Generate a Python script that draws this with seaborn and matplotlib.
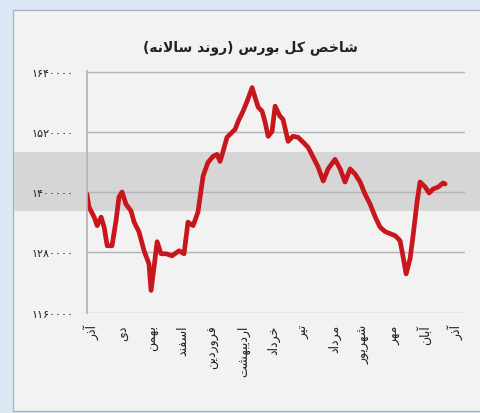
import pandas as pd
import matplotlib.pyplot as plt
import seaborn as sns
from matplotlib.patches import Rectangle

# Data (x in month units, 0 = first آذر label)
t = [-0.17, -0.10, 0.07, 0.17, 0.30, 0.40, 0.50, 0.66, 0.79, 0.89,
     0.99, 1.12, 1.29, 1.39, 1.55, 1.72, 1.88, 1.95, 2.05, 2.15,
     2.28, 2.45, 2.64, 2.88, 3.04, 3.17, 3.34, 3.50, 3.67, 3.83,
     4.00, 4.13, 4.23, 4.33, 4.46, 4.63, 4.73, 4.83, 4.99, 5.12,
     5.29, 5.39, 5.49, 5.62, 5.72, 5.82, 5.95, 6.05, 6.21, 6.31,
     6.48, 6.64, 6.81, 6.98, 7.14, 7.31, 7.47, 7.64, 7.80, 8.03,
     8.20, 8.36, 8.53, 8.69, 8.86, 9.02, 9.19, 9.36, 9.52, 9.69,
     9.85, 10.02, 10.18, 10.28, 10.38, 10.51, 10.61, 10.74, 10.84, 11.01,
     11.14, 11.27, 11.44, 11.60, 11.67]
index = [1396000, 1370000, 1350000, 1333000, 1350000, 1330000, 1293000, 1293000, 1342000, 1390000,
         1400000, 1376000, 1362000, 1340000, 1321000, 1283000, 1257000, 1204000, 1251000, 1301000,
         1277000, 1277000, 1273000, 1283000, 1277000, 1340000, 1333000, 1360000, 1432000, 1459000,
         1471000, 1475000, 1461000, 1481000, 1509000, 1519000, 1525000, 1541000, 1561000, 1580000,
         1608000, 1588000, 1569000, 1561000, 1539000, 1511000, 1521000, 1571000, 1551000, 1545000,
         1501000, 1511000, 1509000, 1499000, 1489000, 1469000, 1450000, 1422000, 1446000, 1465000,
         1446000, 1420000, 1446000, 1436000, 1420000, 1396000, 1376000, 1350000, 1330000, 1321000,
         1317000, 1313000, 1303000, 1271000, 1237000, 1267000, 1313000, 1380000, 1420000, 1410000,
         1398000, 1406000, 1410000, 1418000, 1416000]
months = ["آذر", "دی", "بهمن", "اسفند", "فروردین", "اردیبهشت", "خرداد",
          "تیر", "مرداد", "شهریور", "مهر", "آبان", "آذر"]
yticks = [1160000, 1280000, 1400000, 1520000, 1640000]
title = "شاخص کل بورس (روند سالانه)"

# minimal Persian shaping (matplotlib has no complex text layout)
FORMS = {
    "ا": ("\uFE8D", "\uFE8E", None, None),
    "آ": ("\uFE81", "\uFE82", None, None),
    "ب": ("\uFE8F", "\uFE90", "\uFE91", "\uFE92"),
    "ت": ("\uFE95", "\uFE96", "\uFE97", "\uFE98"),
    "خ": ("\uFEA5", "\uFEA6", "\uFEA7", "\uFEA8"),
    "د": ("\uFEA9", "\uFEAA", None, None),
    "ذ": ("\uFEAB", "\uFEAC", None, None),
    "ر": ("\uFEAD", "\uFEAE", None, None),
    "س": ("\uFEB1", "\uFEB2", "\uFEB3", "\uFEB4"),
    "ش": ("\uFEB5", "\uFEB6", "\uFEB7", "\uFEB8"),
    "ص": ("\uFEB9", "\uFEBA", "\uFEBB", "\uFEBC"),
    "ف": ("\uFED1", "\uFED2", "\uFED3", "\uFED4"),
    "ل": ("\uFEDD", "\uFEDE", "\uFEDF", "\uFEE0"),
    "م": ("\uFEE1", "\uFEE2", "\uFEE3", "\uFEE4"),
    "ن": ("\uFEE5", "\uFEE6", "\uFEE7", "\uFEE8"),
    "ه": ("\uFEE9", "\uFEEA", "\uFEEB", "\uFEEC"),
    "و": ("\uFEED", "\uFEEE", None, None),
    "ی": ("\uFBFC", "\uFBFD", "\uFBFE", "\uFBFF"),
    "ک": ("\uFB8E", "\uFB8F", "\uFB90", "\uFB91"),
    "LA": ("\uFEFB", "\uFEFC", None, None),
}


def fa(text):
    toks = []
    i = 0
    while i < len(text):
        if text[i] == "ل" and i + 1 < len(text) and text[i + 1] == "ا":
            toks.append("LA")
            i += 2
        else:
            toks.append(text[i])
            i += 1
    out = []
    for k, c in enumerate(toks):
        if c not in FORMS:
            out.append(c)
            continue
        prev = toks[k - 1] if k > 0 else None
        nxt = toks[k + 1] if k + 1 < len(toks) else None
        jp = prev in FORMS and FORMS[prev][2] is not None
        jn = FORMS[c][2] is not None and nxt in FORMS
        iso, fin, ini, med = FORMS[c]
        if jp and jn:
            out.append(med)
        elif jp:
            out.append(fin)
        elif jn:
            out.append(ini)
        else:
            out.append(iso)
    vis = "".join(reversed(out))
    return vis.translate(str.maketrans("()", ")("))


def fa_num(v):
    return str(v).translate(str.maketrans("0123456789", "۰۱۲۳۴۵۶۷۸۹"))


df = pd.DataFrame({"t": t, "index": index})

sns.set_theme(style="white")
plt.rcParams["font.family"] = ["DejaVu Sans"]

fig = plt.figure(figsize=(4.81, 4.14), dpi=100, facecolor="#dce8f5")
fig.patches.append(Rectangle((0.027, 0.005), 0.975, 0.969, transform=fig.transFigure,
                             facecolor="#f2f2f2", edgecolor="#aab4c0", lw=1, zorder=-3))
# grey watermark band
fig.patches.append(Rectangle((0.029, 0.488), 0.975, 0.142, transform=fig.transFigure,
                             facecolor="#d6d6d6", edgecolor="none", zorder=-2))

ax = fig.add_axes([0.181, 0.2415, 0.786, 0.5845])
ax.set_facecolor("none")
sns.lineplot(data=df, x="t", y="index", ax=ax, color="#c8161d", lw=3.4,
             solid_joinstyle="round", solid_capstyle="round")

ax.set_xlim(-0.165, 12.33)
ax.set_ylim(1159000, 1641000)
ax.set_yticks(yticks)
ax.set_yticklabels([fa_num(v) for v in yticks], fontsize=8, color="#222222")
ax.set_xticks(range(len(months)))
ax.set_xticklabels([fa(m) for m in months], rotation=90, fontsize=9,
                   color="#222222", va="top", ha="center")
ax.tick_params(axis="y", length=0, pad=10)
ax.tick_params(axis="x", length=0, pad=8)
ax.grid(axis="y", color="#b4b4b4", lw=1)
ax.grid(axis="x", visible=False)
for s in ["top", "right", "bottom"]:
    ax.spines[s].set_visible(False)
ax.spines["left"].set_color("#b4b4b4")
ax.set_xlabel("")
ax.set_ylabel("")

fig.text(0.52, 0.885, fa(title), ha="center", va="center", fontsize=10,
         fontweight="bold", color="#222222")

fig.savefig("out.png", dpi=100, facecolor=fig.get_facecolor())
